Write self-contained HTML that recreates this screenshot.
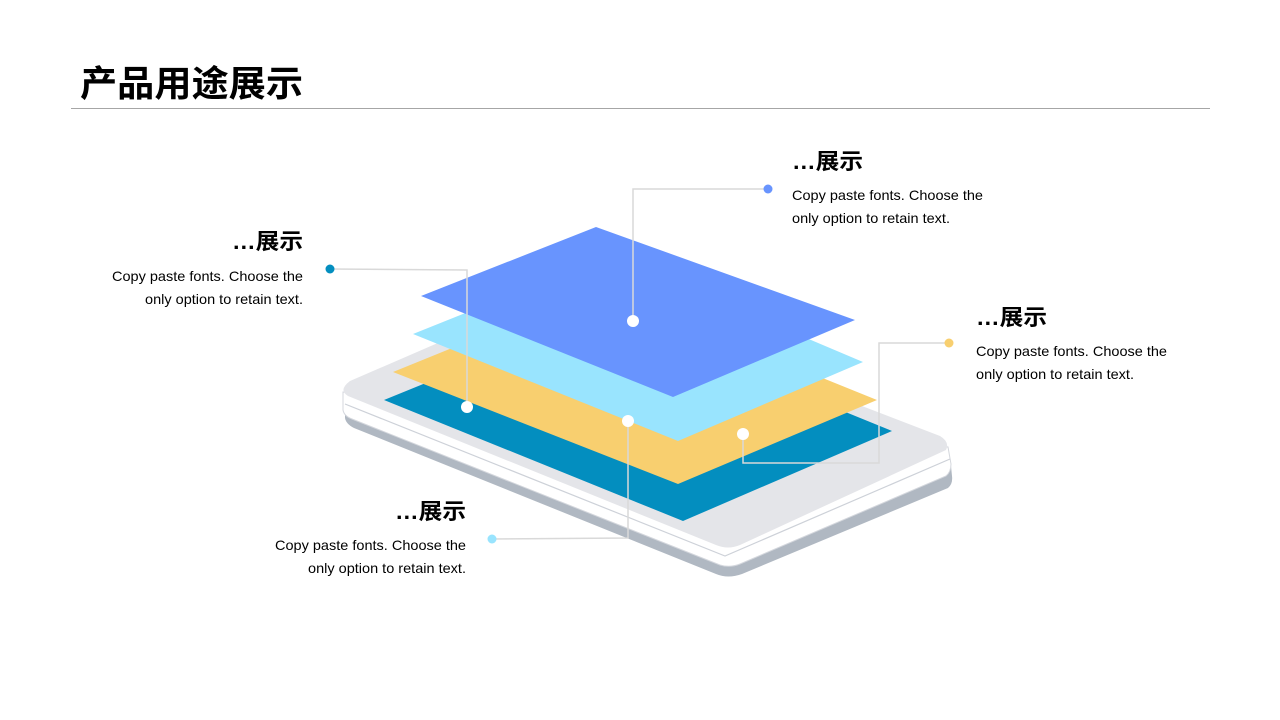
<!DOCTYPE html>
<html><head><meta charset="utf-8"><style>
html,body{margin:0;padding:0;background:#fff;width:1280px;height:720px;overflow:hidden}
.t{font-family:"Liberation Sans","Noto Sans CJK SC",sans-serif}
</style></head><body>
<svg width="1280" height="720" viewBox="0 0 1280 720" xmlns="http://www.w3.org/2000/svg">
<text x="80" y="96" class="t" font-size="36" font-weight="bold" fill="#000" textLength="223" lengthAdjust="spacingAndGlyphs">产品用途展示</text>
<line x1="71" y1="108.5" x2="1210" y2="108.5" stroke="#a6a6a6" stroke-width="1"/>

<!-- device -->
<path d="M345,408 L345,418 Q346,424 354,428 L716,574 Q728,579 742,574 L948,488 Q953,484 952,476 L951,466 L728,562 Z" fill="#b0b8c2"/>
<path d="M343,392 L343,410 Q344,416 352,419 L720,565 Q730,568 740,564 L946,476 Q951,472 951,464 L948,447 Z" fill="#fff" stroke="#d4d7dd" stroke-width="1"/>
<path d="M345,404 L725,556 L950,459" fill="none" stroke="#cdd1d8" stroke-width="1.2"/>
<path d="M350,381 L560,290 L940,436 Q950,442 946,450 L740,545 Q728,550 716,545 L348,396 Q338,390 350,381 Z" fill="#e4e5e9"/>

<!-- layers -->
<polygon points="384,400 600,312 892,431 683,521" fill="#038ebf"/>
<polygon points="393,372 600,288 877,400 678,484" fill="#f8cf6f"/>
<polygon points="413,334 610,255 863,362 678,441" fill="#99e4fe"/>
<polygon points="421,296 596,227 855,320 673,397" fill="#6894fe"/>

<!-- connectors -->
<g fill="none" stroke="#d9d9d9" stroke-width="1.5">
<polyline points="330,269 467,270 467,407"/>
<polyline points="768,189 633,189 633,321"/>
<polyline points="949,343 879,343 879,463 743,463 743,434"/>
<polyline points="492,539 628,538 628,421"/>
</g>
<circle cx="330" cy="269" r="4.5" fill="#038ebf"/>
<circle cx="768" cy="189" r="4.5" fill="#6894fe"/>
<circle cx="949" cy="343" r="4.5" fill="#f8cf6f"/>
<circle cx="492" cy="539" r="4.5" fill="#99e4fe"/>
<g fill="#fff"><circle cx="633" cy="321" r="6"/><circle cx="467" cy="407" r="6"/><circle cx="628" cy="421" r="6"/><circle cx="743" cy="434" r="6"/></g>

<g class="t" fill="#000">
<text x="303" y="249" font-size="22" font-weight="bold" text-anchor="end" textLength="71" lengthAdjust="spacingAndGlyphs">…展示</text>
<text x="303" y="281" font-size="14" text-anchor="end" textLength="191" lengthAdjust="spacingAndGlyphs">Copy paste fonts. Choose the</text>
<text x="303" y="304" font-size="14" text-anchor="end" textLength="158" lengthAdjust="spacingAndGlyphs">only option to retain text.</text>

<text x="792" y="169" font-size="22" font-weight="bold" textLength="71" lengthAdjust="spacingAndGlyphs">…展示</text>
<text x="792" y="200" font-size="14" textLength="191" lengthAdjust="spacingAndGlyphs">Copy paste fonts. Choose the</text>
<text x="792" y="223" font-size="14" textLength="158" lengthAdjust="spacingAndGlyphs">only option to retain text.</text>

<text x="976" y="325" font-size="22" font-weight="bold" textLength="71" lengthAdjust="spacingAndGlyphs">…展示</text>
<text x="976" y="356" font-size="14" textLength="191" lengthAdjust="spacingAndGlyphs">Copy paste fonts. Choose the</text>
<text x="976" y="379" font-size="14" textLength="158" lengthAdjust="spacingAndGlyphs">only option to retain text.</text>

<text x="466" y="519" font-size="22" font-weight="bold" text-anchor="end" textLength="71" lengthAdjust="spacingAndGlyphs">…展示</text>
<text x="466" y="550" font-size="14" text-anchor="end" textLength="191" lengthAdjust="spacingAndGlyphs">Copy paste fonts. Choose the</text>
<text x="466" y="573" font-size="14" text-anchor="end" textLength="158" lengthAdjust="spacingAndGlyphs">only option to retain text.</text>
</g>
</svg>
</body></html>
